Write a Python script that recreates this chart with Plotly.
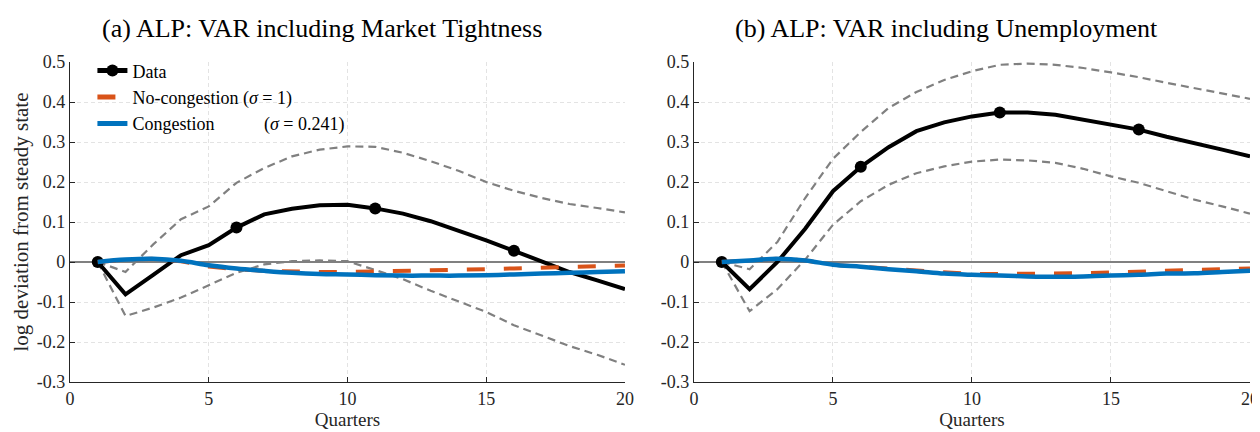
import plotly.graph_objects as go
from plotly.subplots import make_subplots

quarters = list(range(1, 21))

# Panel (a): VAR including Market Tightness
a_data = [0.0, -0.081, -0.032, 0.017, 0.042, 0.086, 0.119, 0.133, 0.142, 0.143,
          0.134, 0.121, 0.102, 0.079, 0.054, 0.028, 0.001, -0.025, -0.046, -0.068]
a_upper = [0.0, -0.025, 0.044, 0.107, 0.139, 0.198, 0.235, 0.264, 0.281, 0.289,
           0.288, 0.273, 0.252, 0.228, 0.200, 0.178, 0.160, 0.145, 0.135, 0.124]
a_lower = [0.0, -0.135, -0.114, -0.089, -0.058, -0.027, -0.006, 0.002, 0.004, 0.002,
           -0.020, -0.043, -0.072, -0.098, -0.125, -0.158, -0.185, -0.210, -0.232, -0.257]
a_nocong = [0.0, 0.006, 0.008, 0.002, -0.011, -0.018, -0.022, -0.024, -0.025, -0.025,
            -0.024, -0.023, -0.022, -0.020, -0.018, -0.016, -0.014, -0.012, -0.010, -0.009]
a_cong = [0.0, 0.006, 0.008, 0.003, -0.008, -0.016, -0.022, -0.027, -0.030, -0.031,
          -0.033, -0.034, -0.034, -0.034, -0.033, -0.031, -0.029, -0.027, -0.025, -0.023]

# Panel (b): VAR including Unemployment
b_data = [0.0, -0.068, 0.0, 0.083, 0.177, 0.238, 0.287, 0.327, 0.349, 0.364,
          0.374, 0.374, 0.368, 0.356, 0.343, 0.331, 0.313, 0.298, 0.281, 0.264]
b_upper = [0.0, -0.018, 0.050, 0.160, 0.258, 0.325, 0.385, 0.425, 0.455, 0.477,
           0.493, 0.496, 0.493, 0.485, 0.474, 0.462, 0.448, 0.435, 0.422, 0.408]
b_lower = [0.0, -0.123, -0.068, 0.006, 0.093, 0.152, 0.193, 0.222, 0.239, 0.251,
           0.256, 0.254, 0.248, 0.233, 0.214, 0.198, 0.177, 0.156, 0.139, 0.121]
b_nocong = [0.0, 0.004, 0.008, 0.004, -0.007, -0.012, -0.017, -0.022, -0.027, -0.030,
            -0.030, -0.030, -0.029, -0.028, -0.026, -0.024, -0.022, -0.021, -0.019, -0.016]
b_cong = [0.0, 0.004, 0.008, 0.004, -0.007, -0.012, -0.018, -0.023, -0.029, -0.032,
          -0.034, -0.036, -0.037, -0.036, -0.034, -0.032, -0.029, -0.028, -0.025, -0.022]

titles = ["(a) ALP: VAR including Market Tightness", "(b) ALP: VAR including Unemployment"]
x_tickvals = [0, 5, 10, 15, 20]
x_ticktext = ["0", "5", "10", "15", "20"]
y_tickvals = [-0.3, -0.2, -0.1, 0, 0.1, 0.2, 0.3, 0.4, 0.5]
y_ticktext = ["-0.3", "-0.2", "-0.1", "0", "0.1", "0.2", "0.3", "0.4", "0.5"]
marker_quarters = [1, 6, 11, 16]

SERIF = "Liberation Serif"
BLACK = "#000000"
ORANGE = "#D95319"
BLUE = "#0072BD"
GRAY = "#808080"
AXC = "#262626"

DOM_A = [0, 0.4703]
DOM_B = [0.5288, 1.0]

fig = make_subplots(rows=1, cols=2, horizontal_spacing=0.0585)

marker_sizes = [12 if q in marker_quarters else 0 for q in quarters]

panels = [(a_data, a_upper, a_lower, a_nocong, a_cong),
          (b_data, b_upper, b_lower, b_nocong, b_cong)]

for i, (d, up, lo, nc, cg) in enumerate(panels):
    col = i + 1
    show = (i == 0)
    for band in (up, lo):
        fig.add_trace(go.Scatter(x=quarters, y=band, mode="lines",
                                 line=dict(color=GRAY, width=2.2, dash="8px,5px"),
                                 showlegend=False, hoverinfo="skip"), row=1, col=col)
    fig.add_trace(go.Scatter(x=quarters, y=d, mode="lines+markers", name="Data",
                             line=dict(color=BLACK, width=4),
                             marker=dict(color=BLACK, size=marker_sizes, opacity=1,
                                         line=dict(width=0, color=BLACK)),
                             showlegend=show), row=1, col=col)
    fig.add_trace(go.Scatter(x=quarters, y=nc, mode="lines",
                             name="No-congestion (<i>σ</i> = 1)",
                             line=dict(color=ORANGE, width=4, dash="18px,19px"),
                             showlegend=show), row=1, col=col)
    fig.add_trace(go.Scatter(x=quarters, y=cg, mode="lines",
                             name="Congestion" + "\u00a0" * 11 + "(<i>σ</i> = 0.241)",
                             line=dict(color=BLUE, width=4.5, shape="spline"),
                             showlegend=show), row=1, col=col)

axis_common = dict(showline=True, linecolor=AXC, linewidth=1.2,
                   ticks="inside", ticklen=5, tickcolor=AXC, tickwidth=1.2,
                   showgrid=True, gridcolor="#E3E3E3", griddash="4px,3px", gridwidth=1,
                   tickfont=dict(family=SERIF, size=18, color="#262626"), mirror=False,
                   automargin=False)

for c in (1, 2):
    fig.update_xaxes(range=[0, 20], tickvals=x_tickvals, ticktext=x_ticktext,
                     zeroline=False,
                     title=dict(text="Quarters", font=dict(family=SERIF, size=19, color="#262626"),
                                standoff=0),
                     row=1, col=c, **axis_common)
    fig.update_yaxes(range=[-0.3, 0.5], tickvals=y_tickvals, ticktext=y_ticktext,
                     zeroline=True, zerolinecolor=GRAY, zerolinewidth=1.5,
                     row=1, col=c, **axis_common)

fig.update_yaxes(title=dict(text="log deviation from steady state",
                            font=dict(family=SERIF, size=21, color="#262626"), standoff=2),
                 row=1, col=1)

fig.update_layout(xaxis=dict(domain=DOM_A), xaxis2=dict(domain=DOM_B))

for title, dom in zip(titles, [DOM_A, DOM_B]):
    fig.add_annotation(text=title, x=(dom[0] + dom[1]) / 2, y=1, xref="paper", yref="paper",
                       xanchor="center", yanchor="middle", yshift=34, xshift=-25,
                       showarrow=False,
                       font=dict(family=SERIF, size=26, color="#000000"))

# the page body adds an 8px offset, so the figure is sized to fit the 1260x432 window
fig.update_layout(
    width=1252, height=424,
    margin=dict(l=62, r=10, t=54, b=50, autoexpand=False),
    paper_bgcolor="white", plot_bgcolor="white",
    font=dict(family=SERIF),
    showlegend=True,
    legend=dict(x=0.019, y=1.03, xanchor="left", yanchor="top", bgcolor="rgba(0,0,0,0)",
                font=dict(family=SERIF, size=18, color="#000000"),
                itemsizing="constant", tracegroupgap=0),
)

fig.write_html("out.html")
